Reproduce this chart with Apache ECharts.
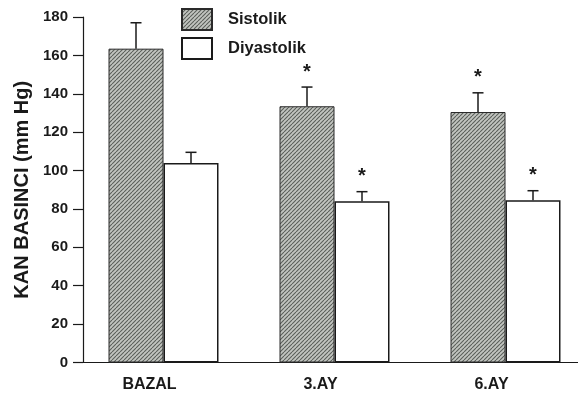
<!DOCTYPE html>
<html>
<head>
<meta charset="utf-8">
<script src="https://cdn.jsdelivr.net/npm/echarts@6/dist/echarts.min.js"></script>
<style>
html,body{margin:0;padding:0;background:#fff;}
#chart{width:578px;height:396px;}
</style>
</head>
<body>
<div id="chart"></div>
<script>
const categories = ['BAZAL', '3.AY', '6.AY'];
const sistolik = [163.5, 133.5, 130.5];
const sistolikErr = [13.5, 10, 10];
const sistolikStar = ['', '*', '*'];
const diyastolik = [104, 84, 84.5];
const diyastolikErr = [5.5, 5, 5];
const diyastolikStar = ['', '*', '*'];
const yMin = 0, yMax = 180, yStep = 20;
const seriesNames = ['Sistolik', 'Diyastolik'];

const FONT = '"Liberation Sans", Arial, sans-serif';
const BAR_W = 55;
const INK = '#1a1a1a';

function hatch() {
  const s = 4;
  const c = document.createElement('canvas');
  c.width = s; c.height = s;
  const g = c.getContext('2d');
  g.fillStyle = '#c2c5c0';
  g.fillRect(0, 0, s, s);
  g.strokeStyle = '#5a5e59';
  g.lineWidth = 1.1;
  for (const k of [-s, 0, s]) {
    g.beginPath();
    g.moveTo(k, s);
    g.lineTo(k + s, 0);
    g.stroke();
  }
  return c;
}

function errSeries(side, vals, errs, stars) {
  return {
    type: 'custom',
    xAxisIndex: 1, yAxisIndex: 1,
    z: 5,
    silent: true,
    clip: false,
    data: categories.map((c, i) => [i, vals[i], errs[i]]),
    renderItem: function (params, api) {
      const i = params.dataIndex;
      const base = api.coord([i, vals[i]]);
      const top = api.coord([i, vals[i] + errs[i]]);
      const x = base[0] + side * BAR_W / 2;
      const children = [
        { type: 'line', shape: { x1: x, y1: base[1], x2: x, y2: top[1] }, style: { stroke: INK, lineWidth: 1.5 } },
        { type: 'line', shape: { x1: x - 5.5, y1: top[1], x2: x + 5.5, y2: top[1] }, style: { stroke: INK, lineWidth: 1.5 } }
      ];
      if (stars[i]) {
        children.push({ type: 'text', style: { x: x, y: top[1] - 15, text: stars[i], align: 'center', verticalAlign: 'middle', font: 'bold 20px ' + FONT, fill: INK } });
      }
      return { type: 'group', children: children };
    }
  };
}

const chart = echarts.init(document.getElementById('chart'), null, { renderer: 'canvas' });
chart.setOption({
  backgroundColor: '#fff',
  animation: false,
  grid: [
    { left: 83, right: 0, top: 17, bottom: 33.5, containLabel: false },
    { left: 163.5, right: 72.5, top: 17, bottom: 33.5, containLabel: false }
  ],
  legend: {
    data: seriesNames,
    orient: 'vertical',
    left: 176, top: 3,
    itemWidth: 30, itemHeight: 21, itemGap: 6,
    icon: 'rect',
    textStyle: { fontFamily: FONT, fontSize: 16.5, fontWeight: 'bold', color: INK, padding: [0, 0, 0, 11] }
  },
  xAxis: [
    {
      gridIndex: 0, type: 'value', min: 0, max: 1,
      axisLine: { show: true, onZero: false, lineStyle: { color: INK, width: 1.2 } },
      axisTick: { show: false }, axisLabel: { show: false }, splitLine: { show: false }
    },
    {
      gridIndex: 1, type: 'category', data: categories, boundaryGap: false,
      axisLine: { show: false },
      axisTick: { show: false },
      axisLabel: { fontFamily: FONT, fontSize: 16, fontWeight: 'bold', color: INK, margin: 14, padding: [0, 28, 0, 0] }
    }
  ],
  yAxis: [
    {
      gridIndex: 0, type: 'value',
      min: yMin, max: yMax, interval: yStep,
      name: 'KAN BASINCI (mm Hg)',
      nameLocation: 'middle',
      nameGap: 50,
      nameTextStyle: { fontFamily: FONT, fontSize: 20, fontWeight: 'bold', color: INK },
      axisLine: { show: true, lineStyle: { color: INK, width: 1.2 } },
      axisTick: { show: true, length: 10, lineStyle: { color: INK, width: 1.2 } },
      axisLabel: { fontFamily: FONT, fontSize: 15, fontWeight: 'bold', color: INK, margin: 15 },
      splitLine: { show: false }
    },
    {
      gridIndex: 1, type: 'value',
      min: yMin, max: yMax, interval: yStep,
      axisLine: { show: false }, axisTick: { show: false }, axisLabel: { show: false }, splitLine: { show: false }
    }
  ],
  series: [
    {
      name: seriesNames[0], type: 'bar', xAxisIndex: 1, yAxisIndex: 1, clip: false,
      data: sistolik, barWidth: BAR_W, barGap: '0%',
      itemStyle: { color: { image: hatch(), repeat: 'repeat' }, borderColor: '#2a2a2a', borderWidth: 1 }
    },
    {
      name: seriesNames[1], type: 'bar', xAxisIndex: 1, yAxisIndex: 1, clip: false,
      data: diyastolik, barWidth: BAR_W, barGap: '0%',
      itemStyle: { color: '#ffffff', borderColor: INK, borderWidth: 1.5 }
    },
    errSeries(-1, sistolik, sistolikErr, sistolikStar),
    errSeries(1, diyastolik, diyastolikErr, diyastolikStar)
  ]
});
</script>
</body>
</html>
